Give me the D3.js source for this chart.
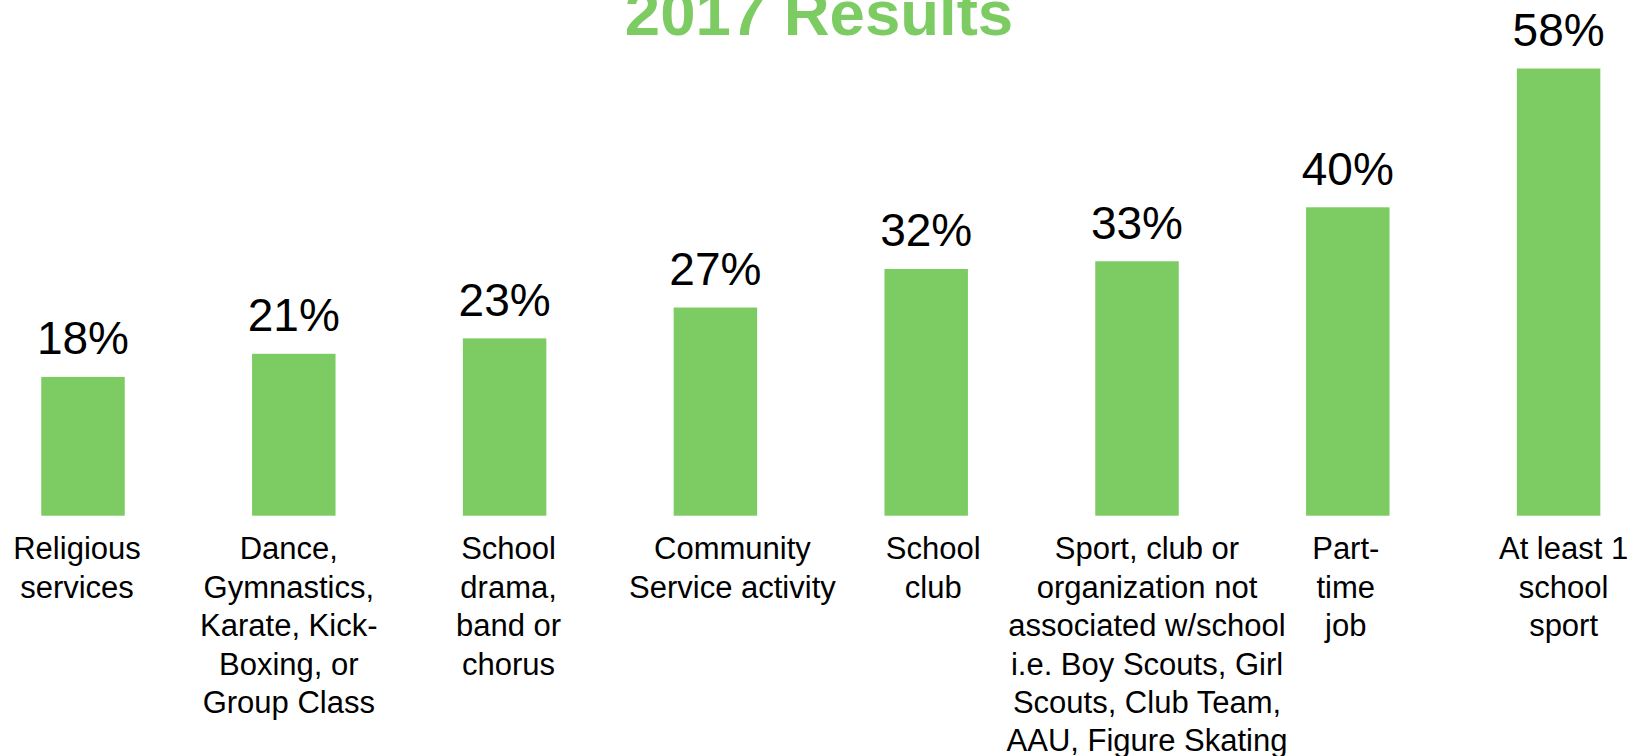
<!DOCTYPE html>
<html>
<head>
<meta charset="utf-8">
<script src="https://cdn.jsdelivr.net/npm/d3@7"></script>
<style>
  html, body { margin: 0; padding: 0; background: #fff; }
  svg { display: block; }
  text { font-family: "Liberation Sans", Arial, Helvetica, sans-serif; }
</style>
</head>
<body>
<svg id="chart" width="1641" height="756"></svg>
<script>
// Activity participation, 2017
const categories = [
  ["Religious", "services"],
  ["Dance,", "Gymnastics,", "Karate, Kick-", "Boxing, or", "Group Class"],
  ["School", "drama,", "band or", "chorus"],
  ["Community", "Service activity"],
  ["School", "club"],
  ["Sport, club or", "organization not", "associated w/school", "i.e. Boy Scouts, Girl", "Scouts, Club Team,", "AAU, Figure Skating"],
  ["Part-", "time", "job"],
  ["At least 1", "school", "sport"]
];
const values = [18, 21, 23, 27, 32, 33, 40, 58];
const title = "2017 Results";

const green = "#7dcb63";
const baseY = 515.7;

const svg = d3.select("#chart");

const x = d3.scaleBand()
  .domain(d3.range(values.length))
  .range([-22.4, 1664])
  .paddingInner(0.604)
  .paddingOuter(0.302);

const y = d3.scaleLinear()
  .domain([0, 60])
  .range([baseY, baseY - 462.6]);

// title, partly clipped by the top edge
svg.append("text")
  .attr("x", 819)
  .attr("y", 34.5)
  .attr("text-anchor", "middle")
  .attr("font-size", 63.5)
  .attr("font-weight", "bold")
  .attr("fill", green)
  .text(title);

// bars
svg.append("g").selectAll("rect")
  .data(values)
  .join("rect")
  .attr("x", (d, i) => x(i))
  .attr("y", d => y(d))
  .attr("width", x.bandwidth())
  .attr("height", d => y(0) - y(d))
  .attr("fill", green);

// value labels above bars
svg.append("g").selectAll("text")
  .data(values)
  .join("text")
  .attr("x", (d, i) => x(i) + x.bandwidth() / 2)
  .attr("y", d => y(d) - 22.5)
  .attr("text-anchor", "middle")
  .attr("font-size", 46)
  .attr("fill", "#000")
  .text(d => d + "%");

// category labels, one tspan per line; small horizontal nudges per label box
const labelNudge = [-6, -5, 4, 17, 7, 10, -2, 5];
const lineH = 38.4;
const catG = svg.append("g");
categories.forEach((lines, i) => {
  const cx = x(i) + x.bandwidth() / 2 + labelNudge[i];
  const t = catG.append("text")
    .attr("text-anchor", "middle")
    .attr("font-size", 31)
    .attr("fill", "#000");
  lines.forEach((ln, k) => {
    t.append("tspan")
      .attr("x", cx)
      .attr("y", 559.3 + k * lineH)
      .text(ln);
  });
});
</script>
</body>
</html>
